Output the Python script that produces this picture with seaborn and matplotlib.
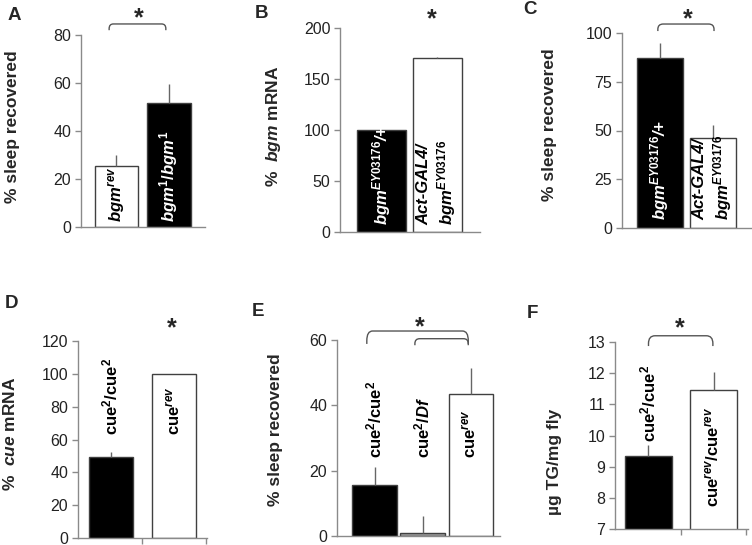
import numpy as np
import pandas as pd
import matplotlib
matplotlib.use("Agg")
import matplotlib.pyplot as plt
import seaborn as sns
from matplotlib.path import Path
from matplotlib.patches import PathPatch

# ---- data ----
a_labels = [r"$bgm^{rev}$", r"$bgm^{1}/bgm^{1}$"]
a_values = [25.5, 51.5]
a_errors = [4.5, 8.0]

b_labels = [r"$bgm^{EY03176}$/+", "Act-GAL4/\n" + r"$bgm^{EY03176}$"]
b_values = [100.0, 171.0]
b_errors = [0.0, 1.0]

c_labels = [r"$bgm^{EY03176}$/+", "Act-GAL4/\n" + r"$bgm^{EY03176}$"]
c_values = [87.0, 46.0]
c_errors = [8.0, 7.0]

d_labels = [r"cue$^{2}$/cue$^{2}$", r"cue$^{rev}$"]
d_values = [49.5, 100.0]
d_errors = [3.0, 0.0]

e_labels = [r"cue$^{2}$/cue$^{2}$", r"cue$^{2}$/$Df$", r"cue$^{rev}$"]
e_values = [15.5, 1.0, 43.5]
e_errors = [5.5, 5.0, 8.0]

f_labels = [r"cue$^{2}$/cue$^{2}$", r"cue$^{rev}$/cue$^{rev}$"]
f_values = [9.35, 11.45]
f_errors = [0.35, 0.6]

sns.set_theme(style="white")
plt.rcParams["font.family"] = ["Liberation Sans", "DejaVu Sans"]
plt.rcParams["mathtext.fontset"] = "custom"
plt.rcParams["mathtext.rm"] = "Liberation Sans:bold"
plt.rcParams["mathtext.it"] = "Liberation Sans:italic:bold"
plt.rcParams["mathtext.bf"] = "Liberation Sans:bold"

AXIS_GREY = "#8a8a8a"
EDGE = "#404040"

fig = plt.figure(figsize=(7.52, 5.45), dpi=100)
W, H = 752.0, 545.0


def make_ax(x0, x1, ytop, ybot):
    return fig.add_axes([x0 / W, 1 - ybot / H, (x1 - x0) / W, (ybot - ytop) / H])


def bracket(ax, x1, x2, y_top, y_end, dx):
    dy = 0.75 * (y_top - y_end)
    verts = [(x1, y_end), (x1, y_top - dy), (x1, y_top), (x1 + dx, y_top),
             (x2 - dx, y_top), (x2, y_top), (x2, y_top - dy), (x2, y_end)]
    codes = [Path.MOVETO, Path.LINETO, Path.CURVE3, Path.CURVE3,
             Path.LINETO, Path.CURVE3, Path.CURVE3, Path.LINETO]
    ax.add_patch(PathPatch(Path(verts, codes), fill=False, edgecolor="#555555",
                           lw=1.0, clip_on=False))


def star(ax, x, y):
    ax.text(x, y, "*", ha="center", va="baseline", fontsize=18,
            fontweight="bold", clip_on=False)


def panel(ax, labels, values, errors, colors, width, xlim, ylim, yticks,
          ylabel, ylabel_pos, text_y, text_colors, italic=True,
          boundary_ticks=False):
    df = pd.DataFrame({"geno": [str(i) for i in range(len(values))], "val": values})
    sns.barplot(data=df, x="geno", y="val", hue="geno", palette=colors,
                width=width, errorbar=None, legend=False, ax=ax,
                edgecolor=EDGE, linewidth=1.0)
    for i, (v, e) in enumerate(zip(values, errors)):
        if e > 0:
            ax.errorbar(i, v, yerr=[[0], [e]], fmt="none", ecolor="#666666",
                        elinewidth=1.0, capsize=0, zorder=1)
    ax.set_xlim(*xlim)
    ax.set_ylim(*ylim)
    ax.set_yticks(yticks)
    ax.set_yticklabels([str(t) for t in yticks], fontsize=11.5, color="#222222")
    if boundary_ticks:
        ax.set_xticks([i + 0.5 for i in range(len(values))])
    else:
        ax.set_xticks([])
    ax.set_xticklabels([])
    ax.set_xlabel("")
    ax.set_ylabel(ylabel, fontsize=12.5, fontweight="bold")
    ax.yaxis.set_label_coords(*ylabel_pos)
    for s in ["top", "right"]:
        ax.spines[s].set_visible(False)
    for s in ["left", "bottom"]:
        ax.spines[s].set_color(AXIS_GREY)
        ax.spines[s].set_linewidth(1.0)
    ax.tick_params(axis="y", left=True, length=4, width=1, color=AXIS_GREY, pad=3)
    ax.tick_params(axis="x", bottom=True, length=4, width=1, color=AXIS_GREY)
    for i, (lab, c) in enumerate(zip(labels, text_colors)):
        ax.text(i, text_y[i], lab, rotation=90, ha="center", va="bottom",
                fontsize=12, fontweight="bold",
                fontstyle="italic" if italic else "normal", color=c,
                multialignment="left")
    ax.patch.set_alpha(0)


# ---- A ----
axA = make_ax(81, 205, 35, 227)
panel(axA, a_labels, a_values, a_errors, ["white", "black"], 0.82,
      (-0.676, 1.686), (0, 80), [0, 20, 40, 60, 80], "% sleep recovered",
      (-0.49, 0.52), [2, 2], ["black", "white"])
bracket(axA, -0.14, 0.94, 84.6, 82.0, 0.08)
star(axA, 0.42, 83.9)

# ---- B ----
axB = make_ax(340, 480, 28, 232)
panel(axB, b_labels, b_values, b_errors, ["black", "white"], 0.86,
      (-0.74, 1.76), (0, 200), [0, 50, 100, 150, 200], r"%  $bgm$ mRNA",
      (-0.41, 0.52), [7, 7], ["white", "black"])
star(axB, 0.9, 201.3)

# ---- C ----
axC = make_ax(622, 752, 33, 228)
panel(axC, c_labels, c_values, c_errors, ["black", "white"], 0.86,
      (-0.71, 1.72), (0, 100), [0, 25, 50, 75, 100], "% sleep recovered",
      (-0.5, 0.53), [4, 4], ["white", "black"])
bracket(axC, -0.04, 1.01, 104.6, 101.0, 0.1)
star(axC, 0.52, 103.2)

# ---- D ----
axD = make_ax(78, 207, 341, 538)
panel(axD, d_labels, d_values, d_errors, ["black", "white"], 0.69,
      (-0.51, 1.51), (0, 120), [0, 20, 40, 60, 80, 100, 120], r"%  $cue$ mRNA",
      (-0.465, 0.53), [63, 63], ["black", "black"], italic=False,
      boundary_ticks=True)
star(axD, 0.96, 123.4)

# ---- E ----
axE = make_ax(337, 500, 340, 536)
panel(axE, e_labels, e_values, e_errors, ["black", "#9a9a9a", "white"], 0.92,
      (-0.78, 2.61), (0, 60), [0, 20, 40, 60], "% sleep recovered",
      (-0.33, 0.54), [24, 24, 24], ["black", "black", "black"], italic=False)
bracket(axE, -0.16, 1.95, 62.75, 58.8, 0.12)
bracket(axE, 0.84, 1.95, 60.4, 58.4, 0.1)
star(axE, 0.95, 61.7)

# ---- F ----
axF = make_ax(615, 748, 342, 529)
panel(axF, f_labels, f_values, f_errors, ["black", "white"], 0.72,
      (-0.515, 1.53), (7, 13), [7, 8, 9, 10, 11, 12, 13], "\u00b5g TG/mg fly",
      (-0.4, 0.36), [9.8, 7.7], ["black", "black"], italic=False,
      boundary_ticks=True)
bracket(axF, 0.0, 0.99, 13.2, 12.87, 0.1)
star(axF, 0.48, 13.21)

# panel letters
for lab, x, y in [("A", 14, 15), ("B", 262, 13), ("C", 530, 10),
                  ("D", 12, 303), ("E", 258, 312), ("F", 532, 313)]:
    fig.text(x / W, 1 - y / H, lab, fontsize=13.5, fontweight="bold",
             ha="center", va="center")

fig.savefig("out.png", dpi=100)
